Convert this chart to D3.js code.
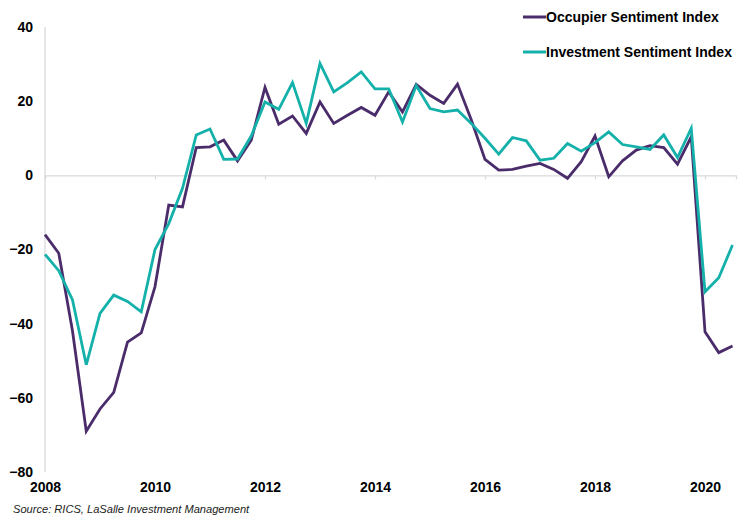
<!DOCTYPE html>
<html>
<head>
<meta charset="utf-8">
<script src="https://cdn.jsdelivr.net/npm/d3@7"></script>
<style>
  body { margin: 0; background: #fff; }
  text { font-family: "Liberation Sans", Arial, sans-serif; }
</style>
</head>
<body>
<script>
// quarterly readings, Q1 2008 .. Q3 2020
var startYear = 2008;
var occupier = [
  -16, -21, -42, -69, -63, -58.5, -45, -42.5,
  -30, -8, -8.5, 7.5, 7.7, 9.5, 3.9, 9.5,
  23.7, 13.8, 16, 11.3, 19.8, 14, 16.2, 18.3,
  16.2, 22.5, 17.1, 24.5, 21.6, 19.4, 24.6, 15,
  4.3, 1.4, 1.6, 2.5, 3.2, 1.6, -0.8, 3.7,
  10.6, -0.4, 3.9, 6.8, 8, 7.5, 3, 10.4,
  -42.2, -47.8, -46
];
var investment = [
  -21.3, -25.7, -33.6, -51.1, -37.2, -32.3, -34, -36.8,
  -20, -13, -3.5, 10.9, 12.5, 4.3, 4.4, 10.6,
  19.8, 17.8, 25, 14, 30.2, 22.5, 25, 27.9,
  23.3, 23.3, 14.4, 24.2, 18, 17.1, 17.6, 14,
  10, 5.7, 10.2, 9.3, 4.1, 4.6, 8.6, 6.5,
  8.8, 11.7, 8.3, 7.7, 7, 10.9, 4.8, 12.7,
  -31.4, -27.6, -18.8
];
var yearTicks = [2008, 2010, 2012, 2014, 2016, 2018, 2020];
var valueTicks = [-80, -60, -40, -20, 0, 20, 40];
var seriesNames = ["Occupier Sentiment Index", "Investment Sentiment Index"];
var seriesColors = ["#4b2c6b", "#14b1ab"];

var w = 746, h = 518;
var svg = d3.select("body").append("svg")
  .attr("width", w)
  .attr("height", h);

var x = d3.scaleLinear().domain([2008, 2020.5636]).range([45, 736]);
var y = d3.scaleLinear().domain([-80, 40]).range([472, 27]);

// y axis line
svg.append("line")
  .attr("x1", x(2008)).attr("x2", x(2008))
  .attr("y1", y(40)).attr("y2", y(-80))
  .attr("stroke", "#d9d9d9").attr("stroke-width", 1.3);

// y labels
svg.append("g")
  .attr("transform", "translate(" + x(2008) + ",0)")
  .call(d3.axisLeft(y).tickValues(valueTicks).tickSize(0).tickPadding(12))
  .call(g => g.select(".domain").remove())
  .selectAll("text")
  .attr("font-size", 14).attr("font-weight", "bold").attr("fill", "#000")
  .style("font-family", "'Liberation Sans', Arial, sans-serif");

// zero line with ticks
svg.append("g")
  .attr("transform", "translate(0," + y(0) + ")")
  .call(d3.axisBottom(x).tickValues(yearTicks.slice(1)).tickSize(4).tickFormat(""))
  .call(g => g.select(".domain").attr("stroke", "#d9d9d9").attr("stroke-width", 1.3))
  .call(g => g.selectAll(".tick line").attr("stroke", "#d9d9d9").attr("stroke-width", 1.3));

// year labels at the bottom
svg.append("g")
  .attr("transform", "translate(0," + 482 + ")")
  .call(d3.axisBottom(x).tickValues(yearTicks).tickSize(0).tickPadding(0).tickFormat(d3.format("d")))
  .call(g => g.select(".domain").remove())
  .selectAll("text")
  .attr("font-size", 14).attr("font-weight", "bold").attr("fill", "#000")
  .style("font-family", "'Liberation Sans', Arial, sans-serif");

var line = d3.line()
  .x((d, i) => x(startYear + i / 4))
  .y(d => y(d));

[occupier, investment].forEach(function(s, k) {
  svg.append("path")
    .datum(s)
    .attr("d", line)
    .attr("fill", "none")
    .attr("stroke", seriesColors[k])
    .attr("stroke-width", 2.8)
    .attr("stroke-linejoin", "miter");
});

// legend
var legend = svg.append("g");
seriesNames.forEach(function(name, k) {
  var ly = 17 + k * 35;
  legend.append("line")
    .attr("x1", 523).attr("x2", 546)
    .attr("y1", ly).attr("y2", ly)
    .attr("stroke", seriesColors[k]).attr("stroke-width", 3);
  legend.append("text")
    .attr("x", 546).attr("y", ly + 5)
    .attr("font-size", 14).attr("font-weight", "bold").attr("fill", "#000")
    .text(name);
});

svg.append("text")
  .attr("x", 13).attr("y", 513)
  .attr("font-size", 11.1).attr("font-style", "italic").attr("fill", "#222")
  .text("Source: RICS, LaSalle Investment Management");
</script>
</body>
</html>
